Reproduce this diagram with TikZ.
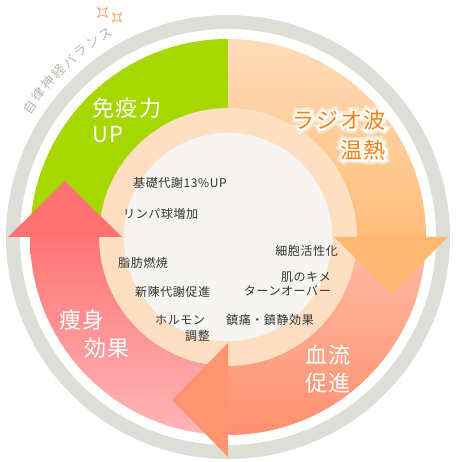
\documentclass[tikz,border=0pt]{standalone}
\usepackage{fontspec}
\newfontfamily\jp[LetterSpace=5]{Noto Sans CJK JP}
\newfontfamily\jpbig[LetterSpace=8]{Noto Sans CJK JP}
\newfontfamily\jpglow[LetterSpace=8,FakeBold=18]{Noto Sans CJK JP}
\newfontfamily\jphalo[LetterSpace=8,FakeBold=36]{Noto Sans CJK JP}
\usetikzlibrary{calc}
\definecolor{ringgray}{HTML}{DEDED8}
\definecolor{peach}{HTML}{FFDFC2}
\definecolor{innerc}{HTML}{F6F5F1}
\definecolor{grn}{HTML}{A6D800}
\definecolor{orTop}{HTML}{FFDCBA}
\definecolor{orBot}{HTML}{FFBD7A}
\definecolor{orHead}{HTML}{FFB870}
\definecolor{saTop}{HTML}{FFBCA4}
\definecolor{saBot}{HTML}{FF9070}
\definecolor{saHead}{HTML}{FF9470}
\definecolor{rdTop}{HTML}{FF7474}
\definecolor{rdBot}{HTML}{FFB6BA}
\definecolor{rdHead}{HTML}{FF7272}
\definecolor{txtdark}{HTML}{333333}
\definecolor{txtorange}{HTML}{FF8010}
\definecolor{arcgray}{HTML}{B8B8B0}
\definecolor{spark}{HTML}{FFB07C}
\tikzset{
  bigtxt/.style={inner sep=0pt,text=white,font=\jpbig\fontsize{22}{24}\selectfont},
  smalltxt/.style={inner sep=0pt,text=txtdark,font=\jp\fontsize{12}{13}\selectfont},
  arctxt/.style={inner sep=0pt,text=arcgray,font=\jp\fontsize{13}{14}\selectfont},
  sparkle/.style={draw=spark,line width=1pt,line join=round}
}
\newcommand{\glowlabel}[4]{% name, position, anchor, text
  \node[inner sep=0pt,text=white,opacity=0.45,anchor=#3,font=\jphalo\fontsize{22}{24}\selectfont] at (#2) {#4};
  \node[inner sep=0pt,text=white,anchor=#3,font=\jpglow\fontsize{22}{24}\selectfont] at (#2) {#4};
  \node[bigtxt,text=txtorange,anchor=#3] (#1) at (#2) {#4};
}
\begin{document}
\begin{tikzpicture}[x=1pt,y=1pt]
\useasboundingbox (0,0) rectangle (456,462);
\coordinate (C) at (228,225);
% outer ring
\fill[ringgray] (C) circle (222);
\fill[white] (C) circle (208);
% inner discs
\fill[peach] (C) circle (131);
\fill[innerc] (C) circle (104);
% bands
\fill[grn] ($(C)+(90:198)$) arc[start angle=90,end angle=180,radius=198]
  -- ($(C)+(180:129)$) arc[start angle=180,end angle=90,radius=129] -- cycle;
\shade[top color=orTop,bottom color=orBot] ($(C)+(0:198)$) arc[start angle=0,end angle=90,radius=198]
  -- ($(C)+(90:129)$) arc[start angle=90,end angle=0,radius=129] -- cycle;
\shade[top color=saTop,bottom color=saBot] ($(C)+(270:198)$) arc[start angle=270,end angle=360,radius=198]
  -- ($(C)+(0:129)$) arc[start angle=360,end angle=270,radius=129] -- cycle;
\shade[top color=rdTop,bottom color=rdBot] ($(C)+(180:198)$) arc[start angle=180,end angle=270,radius=198]
  -- ($(C)+(270:129)$) arc[start angle=270,end angle=180,radius=129] -- cycle;
% arrow heads
\fill[orHead] ($(C)+(106,0)$) -- ($(C)+(220,0)$) -- ($(C)+(163,-56)$) -- cycle;
\fill[saHead] ($(C)+(0,-106)$) -- ($(C)+(0,-220)$) -- ($(C)+(-56,-163)$) -- cycle;
\fill[rdHead] ($(C)+(-106,0)$) -- ($(C)+(-220,0)$) -- ($(C)+(-163,56)$) -- cycle;
% arc text
\foreach \ch [count=\i] in {自,律,神,経,バ,ラ,ン,ス}{
  \pgfmathsetmacro{\ang}{146.7-(\i-1)*3.67}
  \node[arctxt,rotate=\ang-90] (arc\i) at ($(C)+(\ang:237)$) {\ch};
}
% sparkles
\draw[sparkle] (97.5,454.5) .. controls (102.5,451.5) .. (107.5,454.5) .. controls (104.5,449.5) .. (107.5,444.5)
  .. controls (102.5,447.5) .. (97.5,444.5) .. controls (100.5,449.5) .. (97.5,454.5) -- cycle;
\draw[sparkle] (112.5,449) .. controls (117,446.3) .. (121.5,449) .. controls (118.8,444.5) .. (121.5,440)
  .. controls (117,442.7) .. (112.5,440) .. controls (115.2,444.5) .. (112.5,449) -- cycle;
% big labels
\node[bigtxt,anchor=west] (men1) at (92,354) {免疫力};
\node[bigtxt,anchor=west] (men2) at (92,327) {UP};
\glowlabel{rad1}{386,342}{east}{ラジオ波}
\glowlabel{rad2}{386,312}{east}{温熱}
\node[bigtxt,anchor=west] (ket1) at (305,107) {血流};
\node[bigtxt,anchor=west] (ket2) at (305,79) {促進};
\node[bigtxt,anchor=west] (sou1) at (59,142) {痩身};
\node[bigtxt,anchor=west] (sou2) at (84,114) {効果};
% inner labels
\node[smalltxt,anchor=west] (t1) at (133,279) {基礎代謝13\%UP};
\node[smalltxt,anchor=west] (t2) at (123,248) {リンパ球増加};
\node[smalltxt,anchor=west] (t3) at (118,199) {脂肪燃焼};
\node[smalltxt,anchor=west] (t4) at (135,170) {新陳代謝促進};
\node[smalltxt,anchor=west] (t5) at (155,142) {ホルモン};
\node[smalltxt,anchor=west] (t6) at (185,126) {調整};
\node[smalltxt,anchor=east] (t7) at (338,211) {細胞活性化};
\node[smalltxt,anchor=east] (t8) at (331,185) {肌のキメ};
\node[smalltxt,anchor=east] (t9) at (331,171) {ターンオーバー};
\node[smalltxt,anchor=west] (t10) at (226,142) {鎮痛・鎮静効果};
\end{tikzpicture}
\end{document}
